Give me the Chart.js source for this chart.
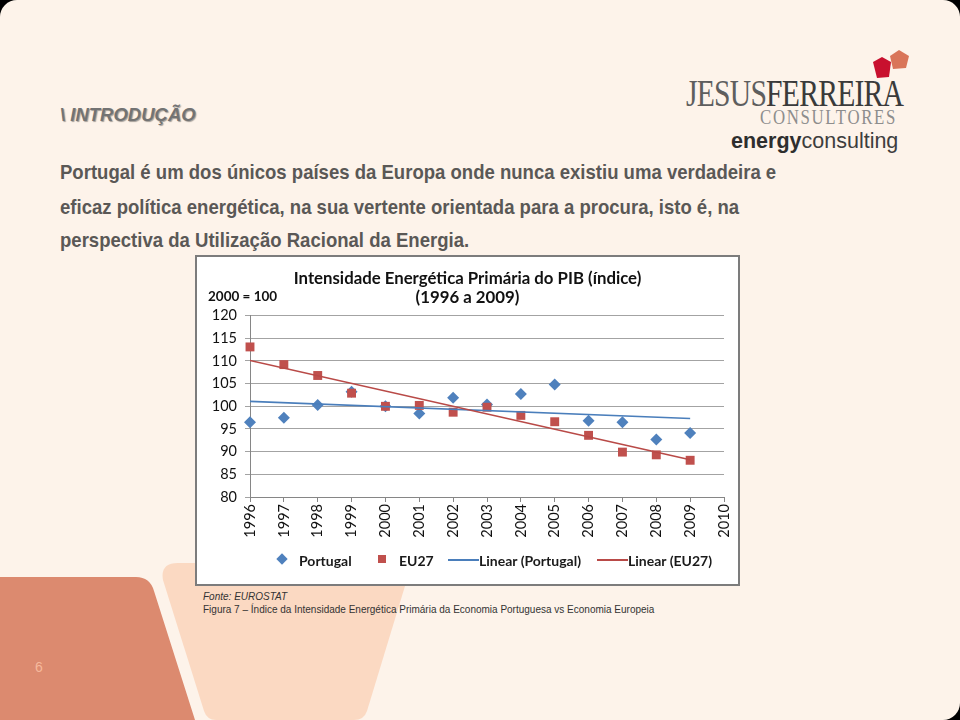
<!DOCTYPE html>
<html>
<head>
<meta charset="utf-8">
<script src="https://cdn.jsdelivr.net/npm/chart.js@4.4.1/dist/chart.umd.min.js"></script>
<style>
  html, body { margin: 0; padding: 0; background: #000; }
  #slide { position: relative; width: 960px; height: 720px; overflow: hidden; font-family: "Liberation Sans", Arial, sans-serif; }
  .abs { position: absolute; white-space: nowrap; }
  #deco { position: absolute; left: 0; top: 0; }
  #heading { left: 60px; top: 104px; font-size: 18.5px; font-weight: bold; font-style: italic; color: #737373; text-shadow: 1px 1px 1px rgba(0,0,0,0.35); }
  .body { left: 60px; font-family: "Liberation Sans", sans-serif; font-weight: bold; font-size: 21px; line-height: 24px; color: #5a5856; transform: scaleX(0.883); transform-origin: left top; }
  #box { position: absolute; left: 195px; top: 255px; width: 541px; height: 327px; background: #fff; border: 2px solid #7c7c7c; }
  #chartwrap { position: absolute; left: 0; top: 0; width: 541px; height: 327px; }
  #base { left: 11px; top: 31px; font-family: Lato, sans-serif; font-weight: bold; font-size: 13.5px; color: #111; }
  .leg { position: absolute; font-family: Lato, sans-serif; font-weight: bold; font-size: 14px; color: #1a1a1a; top: 295px; }
  .caption { left: 203px; font-family: "Liberation Sans", sans-serif; font-size: 10px; color: #333; }
  #pagenum { left: 35px; top: 659px; font-size: 14px; color: #f6b99c; }
  #logo1 { left: 686px; top: 71px; font-family: "Liberation Serif", serif; font-size: 38px; color: #4a4a4a; transform: scaleX(0.78); transform-origin: left top; letter-spacing: -1px; }
  #logo2 { left: 760px; top: 106px; font-family: "Liberation Serif", serif; font-size: 20px; color: #8d8d8d; transform: scaleX(0.84); transform-origin: left top; letter-spacing: 2px; }
  #logo3 { left: 731px; top: 129px; font-family: "Liberation Sans", sans-serif; font-size: 21.5px; color: #3d3d3d; }
</style>
</head>
<body>
<div id="slide">
  <svg id="deco" width="960" height="720">
    <rect x="0" y="0" width="960" height="720" fill="#000"/>
    <rect x="0" y="0" width="960" height="720" rx="17" ry="17" fill="#fdf3ea"/>
    <path d="M0,577 L136,577 Q150,577 154,591 L195,720 L0,720 Z" fill="#dc8a6f"/>
    <path d="M178,563 L412,563 L367,711 Q364,720 354,720 L216,720 Q207,720 204,711 L163,580 Q160,563 178,563 Z" fill="#fbd9c2"/>
    <polygon points="873,62 882,57 891,62 889,77 877,78" fill="#c8102e"/>
    <polygon points="890,56 899,50 909,56 906,68 893,69" fill="#d97559"/>
  </svg>
  <div id="heading" class="abs">\ INTRODUÇÃO</div>
  <div class="abs body" style="top:160px">Portugal é um dos únicos países da Europa onde nunca existiu uma verdadeira e</div>
  <div class="abs body" style="top:195px">eficaz política energética, na sua vertente orientada para a procura, isto é, na</div>
  <div class="abs body" style="top:228px">perspectiva da Utilização Racional da Energia.</div>
  <div id="logo1" class="abs"><span style="color:#5e5e5e">JESUS</span><span style="color:#3a3a3a">FERREIRA</span></div>
  <div id="logo2" class="abs">CONSULTORES</div>
  <div id="logo3" class="abs"><b style="color:#2e2e2e">energy</b>consulting</div>

  <div id="box">
    <div id="chartwrap"><canvas id="c" width="541" height="327"></canvas></div>
    <div id="base" class="abs">2000 = 100</div>
    <div id="legend"></div>
  </div>

  <div class="abs caption" style="top:591px; font-style:italic;">Fonte: EUROSTAT</div>
  <div class="abs caption" style="top:604px;">Figura 7 – Índice da Intensidade Energética Primária da Economia Portuguesa vs Economia Europeia</div>
  <div id="pagenum" class="abs">6</div>
</div>
<script>
const years = [1996, 1997, 1998, 1999, 2000, 2001, 2002, 2003, 2004, 2005, 2006, 2007, 2008, 2009];
const portugal = [96.5, 97.5, 100.3, 103.2, 100.0, 98.4, 101.9, 100.4, 102.7, 104.8, 96.8, 96.5, 92.7, 94.1];
const eu27 = [113.1, 109.2, 106.8, 102.9, 100.0, 100.2, 98.7, 99.8, 98.0, 96.6, 93.6, 89.9, 89.3, 88.1];
const trendYears = [1996, 2009];
const trendPortugal = [101.1, 97.3];
const trendEU27 = [110.1, 88.2];
const seriesNames = ['Portugal', 'EU27', 'Linear (Portugal)', 'Linear (EU27)'];
const titleLines = ['Intensidade Energética Primária do PIB (índice)', '(1996 a 2009)'];

const BLUE = '#4f81bd', RED = '#c0504d', TBLUE = '#4a7ebb', TRED = '#b94a47';
const toXY = (xs, ys) => xs.map((x, i) => ({ x: x, y: ys[i] }));

new Chart(document.getElementById('c'), {
  type: 'scatter',
  data: {
    datasets: [
      { label: seriesNames[0], data: toXY(years, portugal), pointStyle: 'rectRot', pointRadius: 6, backgroundColor: BLUE, borderColor: BLUE, borderWidth: 0, order: 4, clip: false },
      { label: seriesNames[1], data: toXY(years, eu27), pointStyle: 'rect', pointRadius: 6.3, backgroundColor: RED, borderColor: RED, borderWidth: 0, order: 3, clip: false },
      { label: seriesNames[2], type: 'line', data: toXY(trendYears, trendPortugal), borderColor: TBLUE, borderWidth: 1.6, pointRadius: 0, fill: false, order: 2 },
      { label: seriesNames[3], type: 'line', data: toXY(trendYears, trendEU27), borderColor: TRED, borderWidth: 1.6, pointRadius: 0, fill: false, order: 1 }
    ]
  },
  options: {
    responsive: false,
    animation: false,
    events: [],
    layout: { padding: { left: 0, right: 0, top: 0, bottom: 0 } },
    plugins: {
      legend: { display: false },
      tooltip: { enabled: false },
      title: {
        display: true, text: titleLines, color: '#111',
        font: { family: 'Lato', size: 16.8, weight: 'bold', lineHeight: 1.15 },
        padding: { top: 12, bottom: 8 }
      }
    },
    scales: {
      x: {
        type: 'linear', min: 1996, max: 2010,
        afterFit: s => { s.height = 87; s.paddingRight = 14; s.paddingLeft = 0; },
        border: { display: true, color: '#868686', width: 1 },
        grid: { display: true, drawOnChartArea: false, drawTicks: true, tickLength: 5, color: '#868686' },
        ticks: { stepSize: 1, autoSkip: false, minRotation: 90, maxRotation: 90, padding: 2, color: '#111',
                 font: { family: 'Lato', size: 14.5 }, callback: v => String(v) }
      },
      y: {
        min: 80, max: 120,
        afterFit: s => { s.width = 53; },
        border: { display: true, color: '#868686', width: 1 },
        grid: { color: '#a3a3a3', lineWidth: 1, tickLength: 5, drawTicks: true },
        ticks: { stepSize: 5, padding: 8, color: '#111', font: { family: 'Lato', size: 14.5 } }
      }
    }
  }
});

// HTML legend built from dataset names
const leg = document.getElementById('legend');
const items = [
  { name: seriesNames[0], kind: 'diamond', color: BLUE, mx: 85, tx: 102 },
  { name: seriesNames[1], kind: 'square', color: RED, mx: 185, tx: 202 },
  { name: seriesNames[2], kind: 'line', color: TBLUE, mx: 251, mw: 31, tx: 282 },
  { name: seriesNames[3], kind: 'line', color: TRED, mx: 400, mw: 31, tx: 431 }
];
items.forEach(it => {
  const m = document.createElement('div');
  m.style.position = 'absolute';
  if (it.kind === 'diamond') {
    Object.assign(m.style, { left: (it.mx - 4) + 'px', top: '298px', width: '8px', height: '8px', background: it.color, transform: 'rotate(45deg)' });
  } else if (it.kind === 'square') {
    Object.assign(m.style, { left: (it.mx - 4) + 'px', top: '298px', width: '8px', height: '8px', background: it.color });
  } else {
    Object.assign(m.style, { left: it.mx + 'px', top: '302px', width: it.mw + 'px', height: '2px', background: it.color });
  }
  leg.appendChild(m);
  const t = document.createElement('div');
  t.className = 'leg';
  t.style.left = it.tx + 'px';
  t.textContent = it.name;
  leg.appendChild(t);
});
</script>
</body>
</html>
